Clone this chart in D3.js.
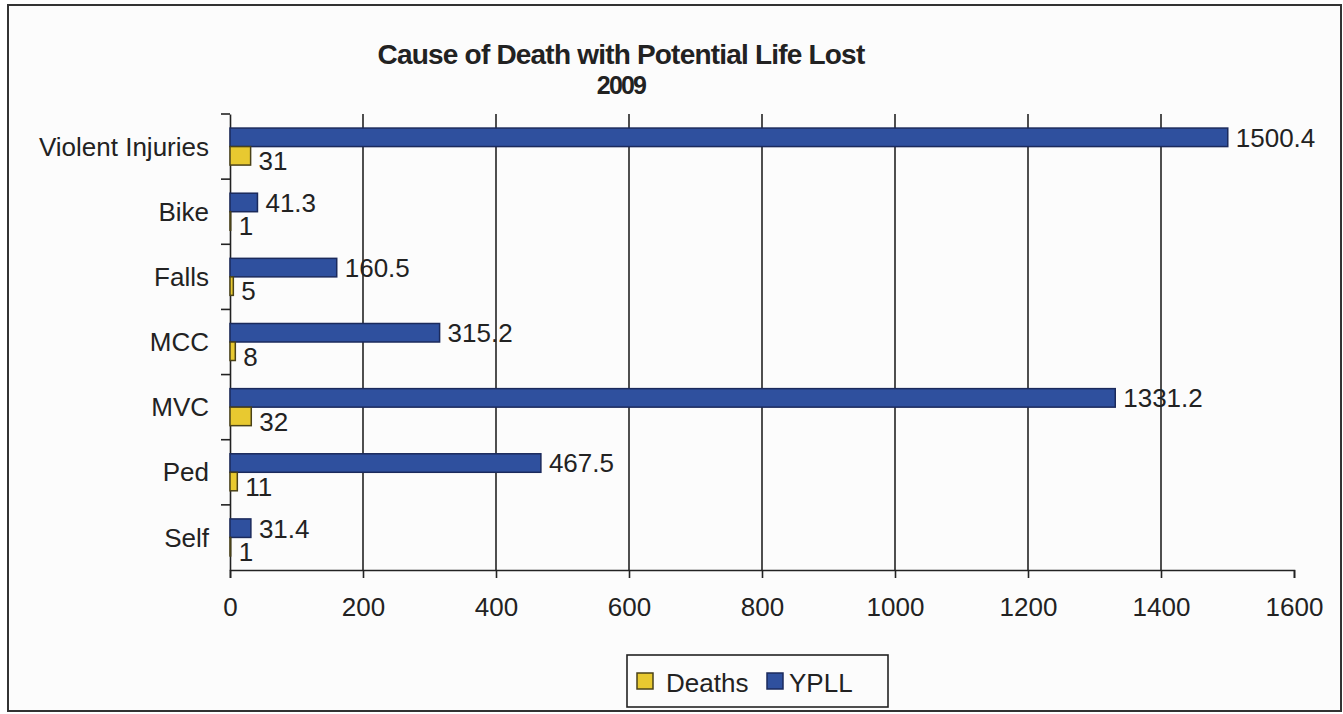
<!DOCTYPE html>
<html><head><meta charset="utf-8">
<script src="https://cdn.jsdelivr.net/npm/d3@7"></script>
<style>
html,body{margin:0;padding:0;background:#fff;}
svg{display:block;}
text{font-family:"Liberation Sans",Arial,sans-serif;fill:#222;}
</style></head>
<body>
<svg id="chart" width="1343" height="714"></svg>
<script>
const categories = ["Violent Injuries","Bike","Falls","MCC","MVC","Ped","Self"];
const deaths = [31,1,5,8,32,11,1];
const ypll = [1500.4,41.3,160.5,315.2,1331.2,467.5,31.4];
const xTicks = [0,200,400,600,800,1000,1200,1400,1600];
const seriesNames = ["YPLL","Deaths"];
const legendNames = ["Deaths","YPLL"];
const titleLines = ["Cause of Death with Potential Life Lost","2009"];

const colors = {YPLL:"#2f509e", Deaths:"#e8c930"};
const strokes = {YPLL:"#1b2a5c", Deaths:"#4a4218"};
const FS = 26;

const svg = d3.select("#chart");
svg.append("rect").attr("x",8).attr("y",5).attr("width",1333).attr("height",706)
  .attr("fill","#fcfcfc").attr("stroke","#333").attr("stroke-width",2);

const L=230, R=1294, T=114, B=570;
const x = d3.scaleLinear().domain([0,1600]).range([L,R]);
const y = d3.scaleBand().domain(categories).range([T,B]).padding(0);
const ys = d3.scaleBand().domain(seriesNames).range([0,y.bandwidth()]).paddingInner(0).paddingOuter(0.76);

// gridlines
svg.append("g").selectAll("line").data(xTicks.filter(t=>t>0 && t<1600)).join("line")
  .attr("x1",d=>x(d)).attr("x2",d=>x(d)).attr("y1",T).attr("y2",B)
  .attr("stroke","#222").attr("stroke-width",1.6);

// axes
const xAxis = d3.axisBottom(x).tickValues(xTicks).tickSize(8).tickSizeOuter(8).tickPadding(20).tickFormat(d3.format("d"));
const gx = svg.append("g").attr("transform",`translate(0,${B})`).call(xAxis);
gx.select(".domain").attr("stroke","#222").attr("stroke-width",1.6);
gx.selectAll(".tick line").attr("stroke","#222").attr("stroke-width",1.6);
gx.selectAll("text").attr("font-size",FS).attr("fill","#222").attr("font-family","Liberation Sans, Arial, sans-serif");

const yAxis = d3.axisLeft(y).tickSize(0).tickPadding(21);
const gy = svg.append("g").attr("transform",`translate(${L},0)`).call(yAxis);
gy.select(".domain").attr("stroke","#222").attr("stroke-width",1.6);
gy.selectAll("text").attr("font-size",FS).attr("fill","#222").attr("font-family","Liberation Sans, Arial, sans-serif").attr("dy","0.35em");
// category boundary ticks
const bounds = categories.map(c=>y(c));
svg.append("g").selectAll("line").data(bounds).join("line")
  .attr("x1",L-9).attr("x2",L).attr("y1",d=>d).attr("y2",d=>d)
  .attr("stroke","#222").attr("stroke-width",1.6);

// bars
const rows = categories.map((c,i)=>({c:c, YPLL:ypll[i], Deaths:deaths[i]}));
const g = svg.append("g");
seriesNames.forEach(s=>{
  g.selectAll("rect."+s).data(rows).join("rect").attr("class",s)
    .attr("x",x(0)).attr("y",d=>y(d.c)+ys(s))
    .attr("width",d=>x(d[s])-x(0)).attr("height",ys.bandwidth())
    .attr("fill",colors[s]).attr("stroke",strokes[s]).attr("stroke-width",1.5);
  g.selectAll("text."+s).data(rows).join("text").attr("class",s)
    .attr("x",d=>x(d[s])+8).attr("y",d=>y(d.c)+ys(s)+ys.bandwidth()/2 + (s==="Deaths"?5:0))
    .attr("dy","0.36em").attr("font-size",FS)
    .text(d=>d[s]);
});

// title
svg.append("text").attr("x",621).attr("y",64).attr("text-anchor","middle")
  .attr("font-size",28).attr("font-weight","bold").attr("letter-spacing","-0.8")
  .attr("fill","#333").text(titleLines[0]);
svg.append("text").attr("x",621).attr("y",94).attr("text-anchor","middle")
  .attr("font-size",25).attr("font-weight","bold").attr("letter-spacing","-1.8")
  .attr("fill","#333").text(titleLines[1]);

// legend
const lg = svg.append("g");
lg.append("rect").attr("x",627).attr("y",655).attr("width",261).attr("height",52)
  .attr("fill","#fcfcfc").attr("stroke","#222").attr("stroke-width",1.6);
const legPos = [{sx:637, tx:666},{sx:767, tx:789}];
legendNames.forEach((s,i)=>{
  lg.append("rect").attr("x",legPos[i].sx).attr("y",673).attr("width",16).attr("height",16)
    .attr("fill",colors[s]).attr("stroke",strokes[s]).attr("stroke-width",1.5);
  lg.append("text").attr("x",legPos[i].tx).attr("y",683).attr("dy","0.36em")
    .attr("font-size",FS).text(s);
});
</script>
</body></html>
